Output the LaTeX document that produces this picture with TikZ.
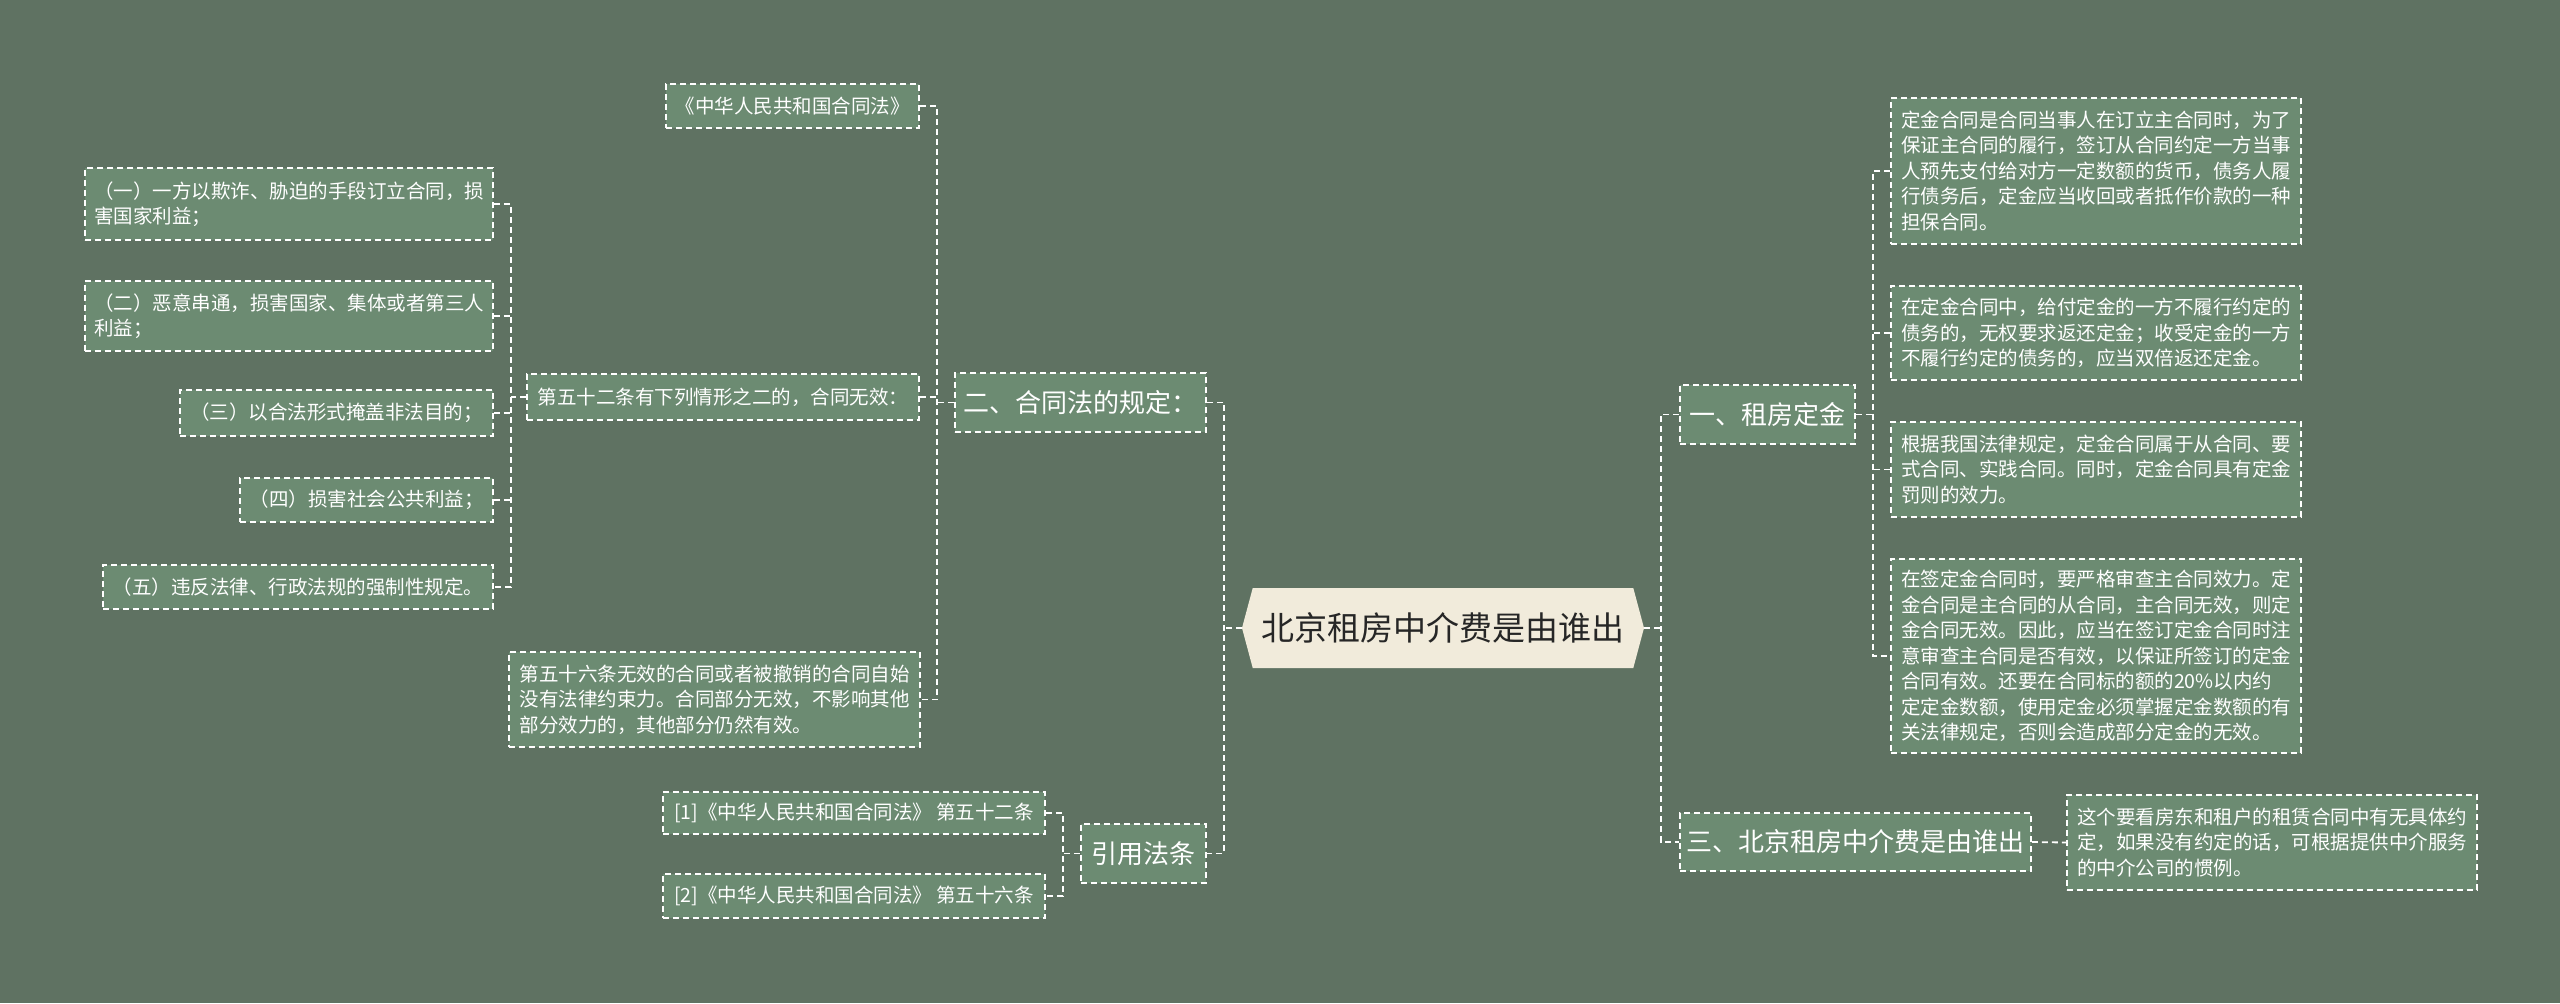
\documentclass[tikz,border=0pt]{standalone}
\usepackage{fontspec}
\newfontfamily\cjk{Noto Sans CJK SC}
\usetikzlibrary{shapes.symbols}
\definecolor{bgcol}{RGB}{95,114,98}
\definecolor{boxcol}{RGB}{108,139,114}
\definecolor{rootcol}{RGB}{241,235,219}

\begin{document}
\begin{tikzpicture}[x=0.5pt, y=-0.5pt,
		leaf/.style={draw=white, fill=boxcol, line width=0.9pt, dash pattern=on 3pt off 2pt, text=white, inner sep=0pt, align=left, font=\cjk\fontsize{9.75pt}{12.75pt}\selectfont},
		branch/.style={leaf, align=center, font=\cjk\fontsize{13pt}{16pt}\selectfont},
		link/.style={draw=white, line width=0.9pt, dash pattern=on 3pt off 2pt}]
		%%%%% START %%%%%
		
		\fill[bgcol] (0, 0) rectangle (2560, 1003);
		\useasboundingbox (0, 0) rectangle (2560, 1003);
		
		\node[signal, signal to=west and east, signal pointer angle=150, fill=rootcol, inner sep=0pt, minimum width=201pt, minimum height=40pt, text=black!85, font=\cjk\fontsize{16.5pt}{20pt}\selectfont] (root) at (1443, 628) {北京租房中介费是由谁出};
		
		\node[branch, minimum width=125.5pt, minimum height=29.5pt] (sec2) at (1080.5, 402.5) {二、合同法的规定：};
		\node[branch, minimum width=62.5pt, minimum height=29.5pt] (cite) at (1143.5, 853.5) {引用法条};
		\node[branch, minimum width=87.5pt, minimum height=29.5pt] (sec1) at (1767.5, 414.5) {一、租房定金};
		\node[branch, minimum width=175.5pt, minimum height=29pt] (sec3) at (1855.5, 842) {三、北京租房中介费是由谁出};
		
		\node[leaf, minimum width=126.5pt, minimum height=22pt] (law) at (792.5, 106) {《中华人民共和国合同法》};
		\node[leaf, minimum width=196pt, minimum height=23pt] (art52) at (723, 397) {第五十二条有下列情形之二的，合同无效：};
		\node[leaf, minimum width=205.5pt, minimum height=47.5pt] (art56) at (714.5, 699.5) {第五十六条无效的合同或者被撤销的合同自始\\没有法律约束力。合同部分无效，不影响其他\\部分效力的，其他部分仍然有效。};
		
		\node[leaf, minimum width=204pt, minimum height=36pt] (c1) at (289, 204) {（一）一方以欺诈、胁迫的手段订立合同，损\\害国家利益；};
		\node[leaf, minimum width=204pt, minimum height=35pt] (c2) at (289, 316) {（二）恶意串通，损害国家、集体或者第三人\\利益；};
		\node[leaf, minimum width=156.5pt, minimum height=23pt] (c3) at (336.5, 413) {（三）以合法形式掩盖非法目的；};
		\node[leaf, minimum width=126.5pt, minimum height=22pt] (c4) at (366.5, 500) {（四）损害社会公共利益；};
		\node[leaf, minimum width=195pt, minimum height=22pt] (c5) at (298, 587) {（五）违反法律、行政法规的强制性规定。};
		
		\node[leaf, minimum width=191pt, minimum height=21pt] (ref1) at (854, 813) {[1]《中华人民共和国合同法》 第五十二条};
		\node[leaf, minimum width=191pt, minimum height=22pt] (ref2) at (854, 896) {[2]《中华人民共和国合同法》 第五十六条};
		
		\node[leaf, minimum width=205pt, minimum height=73pt] (d1) at (2096, 171) {定金合同是合同当事人在订立主合同时，为了\\保证主合同的履行，签订从合同约定一方当事\\人预先支付给对方一定数额的货币，债务人履\\行债务后，定金应当收回或者抵作价款的一种\\担保合同。};
		\node[leaf, minimum width=205pt, minimum height=47pt] (d2) at (2096, 333) {在定金合同中，给付定金的一方不履行约定的\\债务的，无权要求返还定金；收受定金的一方\\不履行约定的债务的，应当双倍返还定金。};
		\node[leaf, minimum width=205pt, minimum height=47.5pt] (d3) at (2096, 469.5) {根据我国法律规定，定金合同属于从合同、要\\式合同、实践合同。同时，定金合同具有定金\\罚则的效力。};
		\node[leaf, minimum width=205pt, minimum height=97pt] (d4) at (2096, 656) {在签定金合同时，要严格审查主合同效力。定\\金合同是主合同的从合同，主合同无效，则定\\金合同无效。因此，应当在签订定金合同时注\\意审查主合同是否有效，以保证所签订的定金\\合同有效。还要在合同标的额的20\%以内约\\定定金数额，使用定金必须掌握定金数额的有\\关法律规定，否则会造成部分定金的无效。};
		\node[leaf, minimum width=205pt, minimum height=47.5pt] (d5) at (2272, 842.5) {这个要看房东和租户的租赁合同中有无具体约\\定，如果没有约定的话，可根据提供中介服务\\的中介公司的惯例。};
		
		% trunks
		\coordinate (tl) at (1224, 628);
		\coordinate (tr) at (1661, 628);
		\coordinate (t2) at (937, 402);
		\coordinate (t52) at (511, 397);
		\coordinate (tc) at (1063, 853);
		\coordinate (t1) at (1873, 414);
		
		\draw[link] (root.west) -- (tl);
		\draw[link] (sec2.east) -| (tl) |- (cite.east);
		\draw[link] (root.east) -- (tr);
		\draw[link] (sec1.west) -| (tr) |- (sec3.west);
		
		\draw[link] (sec2.west) -- (sec2.west -| t2);
		\draw[link] (law.east) -| (t2 |- art56.east) -- (art56.east);
		\draw[link] (art52.east) -- (art52.east -| t2);
		
		\draw[link] (art52.west) -- (art52.west -| t52);
		\draw[link] (c1.east) -| (t52 |- c5.east) -- (c5.east);
		\foreach \n in {c2, c3, c4}
			\draw[link] (\n.east) -- (\n.east -| t52);
		
		\draw[link] (cite.west) -- (cite.west -| tc);
		\draw[link] (ref1.east) -| (tc |- ref2.east) -- (ref2.east);
		
		\draw[link] (sec1.east) -- (sec1.east -| t1);
		\draw[link] (d1.west) -| (t1 |- d4.west) -- (d4.west);
		\foreach \n in {d2, d3}
			\draw[link] (\n.west) -- (\n.west -| t1);
		
		\draw[link] (sec3.east) -- (d5.west);
		
		%%%%% END %%%%%
	\end{tikzpicture}
\end{document}
